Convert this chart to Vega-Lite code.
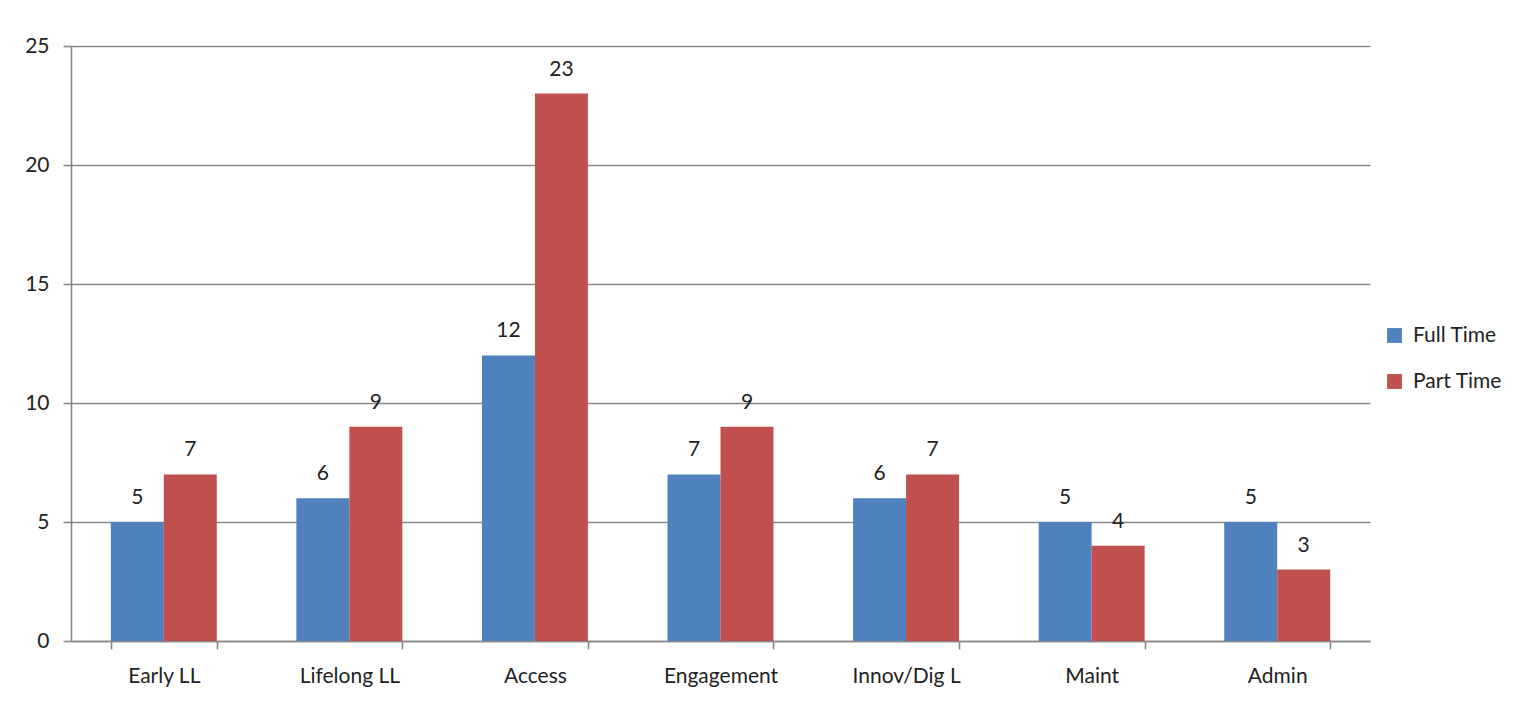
{
  "$schema": "https://vega.github.io/schema/vega-lite/v6.json",
  "width": 1299,
  "height": 595,
  "autosize": {"type": "none"},
  "padding": {"left": 71, "top": 46, "right": 166, "bottom": 75},
  "background": "white",
  "config": {
    "font": "Lato",
    "view": {"stroke": null},
    "axis": {"labelFont": "Lato", "labelColor": "#222", "labelFontSize": 21, "domainColor": "#888", "tickColor": "#888", "gridColor": "#8a8a8a", "domainWidth": 1.6, "tickWidth": 1.6}
  },
  "data": {"values": [
    {"cat": "Early LL", "series": "Full Time", "v": 5},
    {"cat": "Early LL", "series": "Part Time", "v": 7},
    {"cat": "Lifelong LL", "series": "Full Time", "v": 6},
    {"cat": "Lifelong LL", "series": "Part Time", "v": 9},
    {"cat": "Access", "series": "Full Time", "v": 12},
    {"cat": "Access", "series": "Part Time", "v": 23},
    {"cat": "Engagement", "series": "Full Time", "v": 7},
    {"cat": "Engagement", "series": "Part Time", "v": 9},
    {"cat": "Innov/Dig L", "series": "Full Time", "v": 6},
    {"cat": "Innov/Dig L", "series": "Part Time", "v": 7},
    {"cat": "Maint", "series": "Full Time", "v": 5},
    {"cat": "Maint", "series": "Part Time", "v": 4},
    {"cat": "Admin", "series": "Full Time", "v": 5},
    {"cat": "Admin", "series": "Part Time", "v": 3}
  ]},
  "encoding": {
    "x": {"field": "cat", "type": "nominal", "sort": null, "title": null,
      "scale": {"paddingInner": 0.429, "paddingOuter": 0.2145},
      "axis": {"labelAngle": 0, "tickBand": "extent", "tickSize": 8, "labelPadding": 16, "grid": false}},
    "xOffset": {"field": "series", "type": "nominal"},
    "y": {"field": "v", "type": "quantitative", "title": null,
      "scale": {"domain": [0, 25], "nice": false},
      "axis": {"values": [0, 5, 10, 15, 20, 25], "tickSize": 8, "labelPadding": 14, "grid": true, "gridWidth": 1.5}}
  },
  "layer": [
    {
      "mark": {"type": "bar"},
      "encoding": {
        "color": {"field": "series", "type": "nominal", "title": null,
          "scale": {"domain": ["Full Time", "Part Time"], "range": ["#4F81BD", "#C0504D"]},
          "legend": {"orient": "none", "legendX": 1313, "legendY": 279, "symbolType": "square", "symbolSize": 220, "labelFontSize": 21, "labelFont": "Lato", "labelColor": "#222", "rowPadding": 24, "labelOffset": 8, "symbolStrokeWidth": 0}
        }
      }
    },
    {
      "mark": {"type": "text", "dy": -24, "fontSize": 21, "font": "Lato", "color": "#222"},
      "encoding": {"text": {"field": "v", "type": "quantitative"}}
    }
  ]
}
